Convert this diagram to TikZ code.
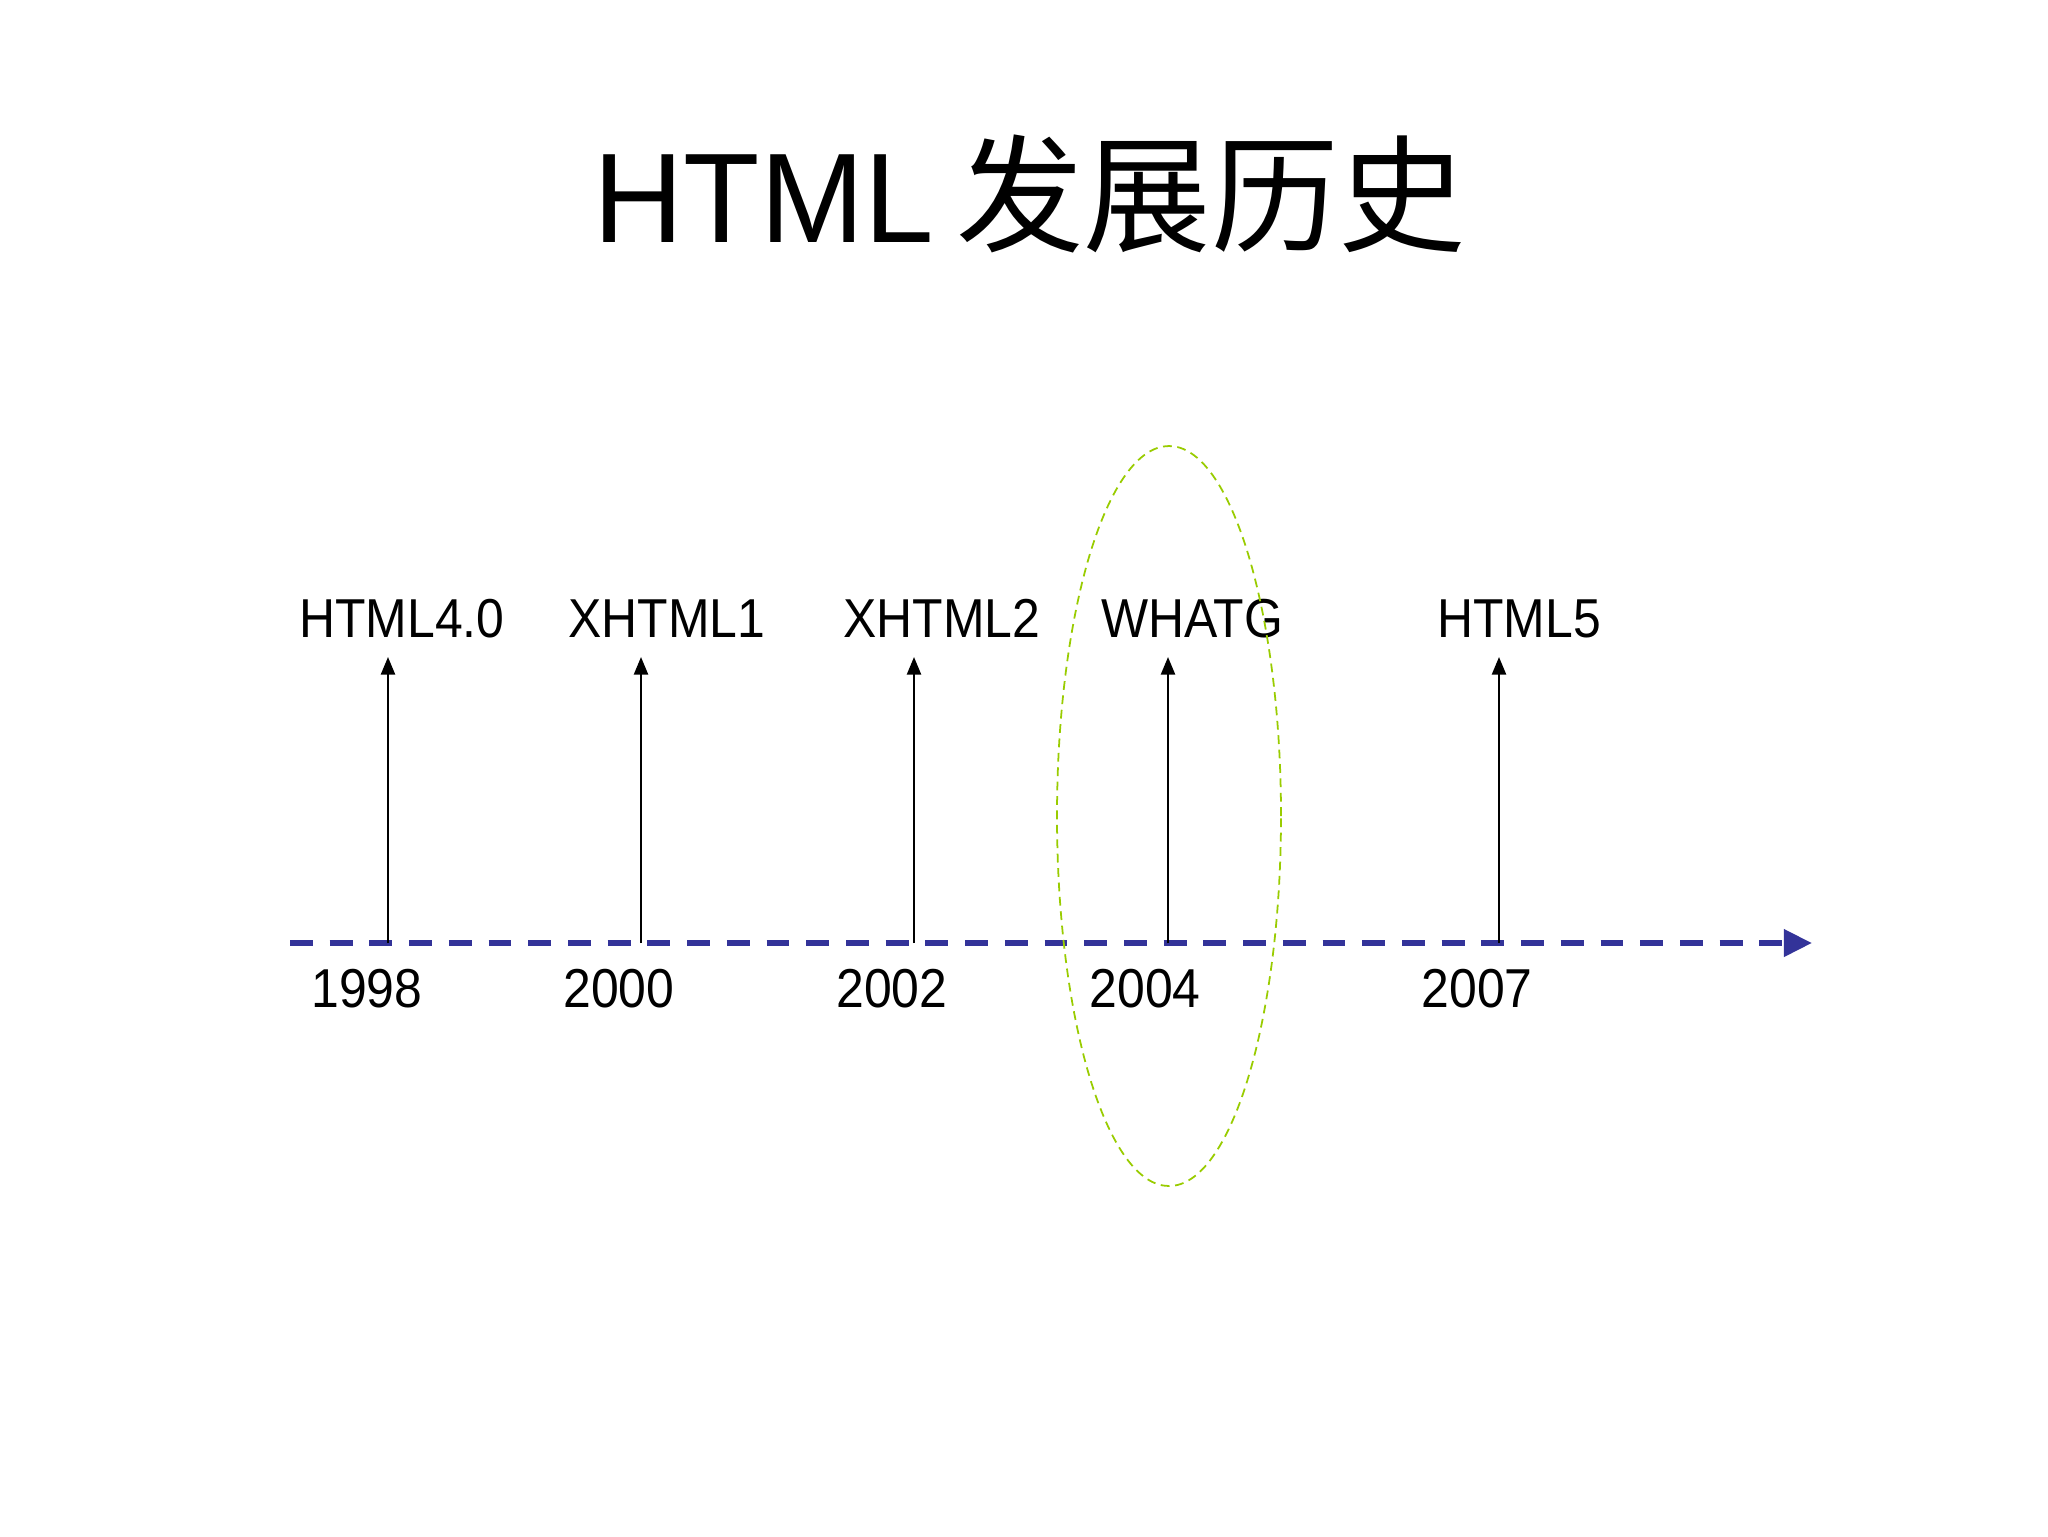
\documentclass[tikz,border=0pt]{standalone}
\usepackage{fontspec}
\setmainfont{Liberation Sans}[FakeStretch=0.91]
\newfontfamily\titlefont{Liberation Sans}[FakeStretch=0.98]
\newfontfamily\cjk{Noto Sans CJK SC}
\usetikzlibrary{arrows.meta,shapes.geometric}
\definecolor{tlblue}{RGB}{51,51,153}
\definecolor{ygreen}{RGB}{153,204,0}
\begin{document}
\begin{tikzpicture}[x=0.1mm,y=-0.1mm,
  lbl/.style={anchor=base,inner sep=0pt,font=\fontsize{15.6pt}{18pt}\selectfont},
  titlestyle/.style={anchor=base,inner sep=0pt,font=\fontsize{36.3pt}{40pt}\selectfont},
  timeline/.style={draw=tlblue,line width=1.7pt,dash pattern=on 6.5pt off 4.8pt,
    -{Triangle[length=8pt,width=7.5pt,fill=tlblue]}},
  vline/.style={draw=black,line width=0.6pt,-{Triangle[length=5pt,width=4pt]}},
  focusring/.style={draw=ygreen,line width=0.5pt,dash pattern=on 2.5pt off 1.6pt,
    ellipse,inner sep=0pt,minimum width=22.4mm,minimum height=74mm}]
\useasboundingbox (0,0) rectangle (2048,1536);
\fill[white] (0,0) rectangle (2048,1536);

\node[titlestyle] (title) at (1030,242) {{\titlefont HTML}\hspace{-0.08em} {\cjk 发展历史}};

% timeline
\coordinate (tlstart) at (290,943);
\coordinate (tlend) at (1812,943);
\draw[timeline] (tlstart) -- (tlend);

% version labels
\node[lbl] (v1) at (402,637) {HTML4.0};
\node[lbl] (v2) at (667,637) {XHTML1};
\node[lbl] (v3) at (942,637) {XHTML2};
\node[lbl] (v4) at (1192,637) {WHATG};
\node[lbl] (v5) at (1519,637) {HTML5};

% years
\node[lbl] (y1) at (367,1007) {1998};
\node[lbl] (y2) at (619,1007) {2000};
\node[lbl] (y3) at (892,1007) {2002};
\node[lbl] (y4) at (1145,1007) {2004};
\node[lbl] (y5) at (1477,1007) {2007};

% arrow ends
\coordinate (b1) at (388,943);  \coordinate (t1) at (388,657);
\coordinate (b2) at (641,943);  \coordinate (t2) at (641,657);
\coordinate (b3) at (914,943);  \coordinate (t3) at (914,657);
\coordinate (b4) at (1168,943); \coordinate (t4) at (1168,657);
\coordinate (b5) at (1499,943); \coordinate (t5) at (1499,657);
\foreach \i in {1,...,5} {\draw[vline] (b\i) -- (t\i);}

% highlight ellipse
\node[focusring] (focus) at (1169,816) {};
\end{tikzpicture}
\end{document}
